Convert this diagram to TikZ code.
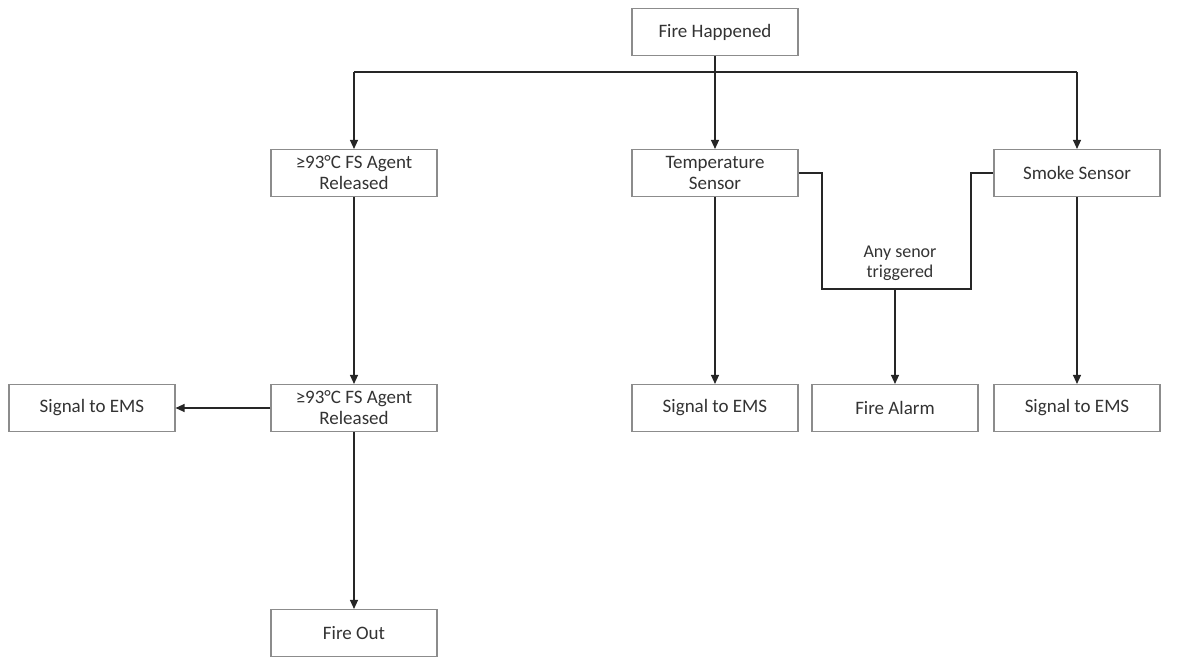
\documentclass[tikz,border=0pt]{standalone}
\usepackage{fontspec}
\setmainfont{Carlito}
\usetikzlibrary{arrows.meta}
\begin{document}
\begin{tikzpicture}[x=1pt,y=-1pt,
  box/.style={draw=black!45,line width=1.1pt,fill=white,minimum width=166pt,minimum height=47pt,inner sep=2pt,align=center,font=\fontsize{19}{21}\selectfont,text=black!80},
  conn/.style={draw=black!85,line width=1.2pt},
  arr/.style={conn,-{Triangle[length=9pt,width=8pt]}},
  lbl/.style={align=center,font=\fontsize{18}{20}\selectfont,text=black!80}]
\useasboundingbox (0,0) rectangle (1188,658);
\node[box] (fire) at (715,32) {Fire Happened};
\node[box] (agent1) at (354,173) {≥93°C FS Agent\\Released};
\node[box] (temp) at (715,173) {Temperature\\Sensor};
\node[box] (smoke) at (1077,173) {Smoke Sensor};
\node[box] (ems1) at (92,408) {Signal to EMS};
\node[box] (agent2) at (354,408) {≥93°C FS Agent\\Released};
\node[box] (ems2) at (715,408) {Signal to EMS};
\node[box] (alarm) at (895,408) {Fire Alarm};
\node[box] (ems3) at (1077,408) {Signal to EMS};
\node[box] (out) at (354,633) {Fire Out};
\node[lbl] (trig) at (900,263) {Any senor\\triggered};
\coordinate (split) at (715,72);
\coordinate (loopb) at (895,289);
\draw[conn] (fire.south) -- (split);
\draw[conn] (agent1.north |- split) -- (smoke.north |- split);
\draw[arr] (agent1.north |- split) -- (agent1.north);
\draw[arr] (split) -- (temp.north);
\draw[arr] (smoke.north |- split) -- (smoke.north);
\draw[conn] (temp.east) -- (822,173) -- (822,289) -- (971,289) -- (971,173) -- (smoke.west);
\draw[arr] (loopb) -- (alarm.north);
\draw[arr] (agent1.south) -- (agent2.north);
\draw[arr] (temp.south) -- (ems2.north);
\draw[arr] (smoke.south) -- (ems3.north);
\draw[arr] (agent2.west) -- (ems1.east);
\draw[arr] (agent2.south) -- (out.north);
\end{tikzpicture}
\end{document}
